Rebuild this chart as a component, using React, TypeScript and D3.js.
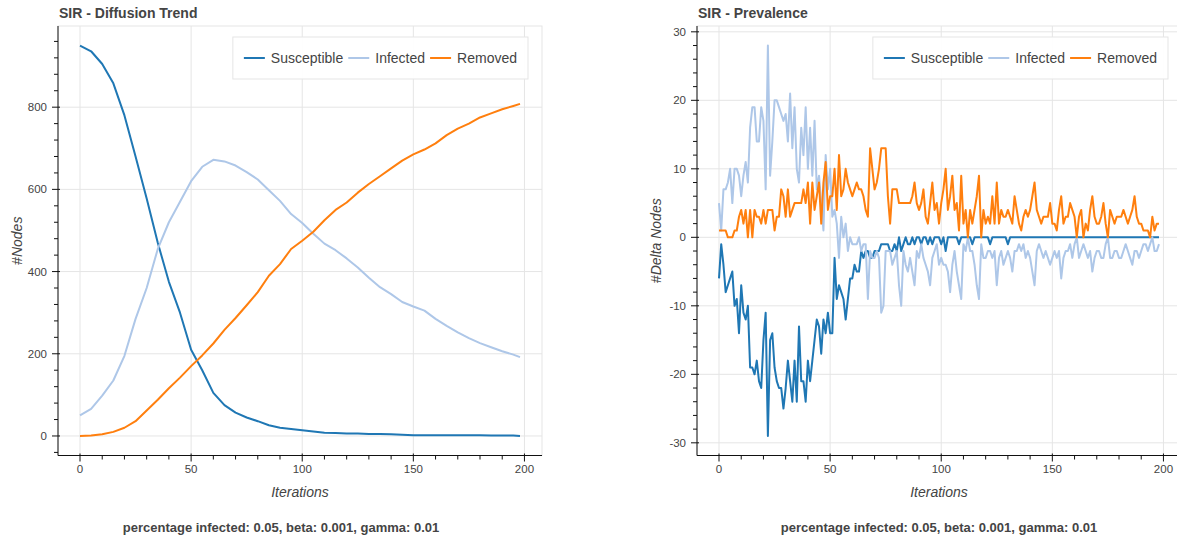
import React, { useEffect, useRef } from 'react';
import * as d3 from 'd3';

const W = 1177;
const H = 540;

// Diffusion trend (node counts), read every 5 iterations
const trendIters = [0, 5, 10, 15, 20, 25, 30, 35, 40, 45, 50, 55, 60, 65, 70, 75, 80, 85, 90, 95, 100,
  105, 110, 115, 120, 125, 130, 135, 140, 145, 150, 155, 160, 165, 170, 175, 180, 185, 190, 195, 198];
const trendSusceptible = [950, 936, 905, 858, 780, 680, 578, 470, 375, 300, 210, 160, 105, 75, 57, 45, 36, 26, 20, 17, 14,
  11, 8, 7, 6, 6, 5, 5, 4, 3, 2, 2, 2, 2, 2, 2, 2, 1, 1, 1, 0];
const trendInfected = [50, 66, 98, 135, 195, 285, 360, 455, 520, 570, 620, 655, 672, 668, 658, 642, 624, 598, 572, 540, 518,
  492, 468, 452, 432, 410, 385, 362, 345, 326, 315, 305, 285, 268, 252, 238, 226, 216, 206, 198, 192];
const trendRemoved = [0, 1, 4, 10, 20, 36, 62, 88, 116, 142, 170, 196, 225, 258, 287, 318, 350, 390, 418, 455, 475,
  497, 525, 550, 568, 592, 613, 632, 651, 670, 685, 697, 712, 732, 748, 760, 775, 785, 795, 803, 808];

// Prevalence (delta nodes per iteration), iterations 0..198
const prevSusceptible = [
  -6, -1, -4, -8, -7, -6, -5, -10, -9, -14,
  -7, -11, -12, -10, -19, -19, -20, -18, -21, -22,
  -15, -11, -29, -15, -14, -19, -21, -22, -22, -25,
  -22, -18, -21, -24, -18, -24, -13, -21, -21, -24,
  -18, -21, -18, -15, -12, -13, -17, -12, -14, -11,
  -14, -14, -3, -9, -7, -8, -9, -12, -9, -6,
  -6, -4, -5, -5, -2, -3, -2, -2, -3, -3,
  -2, -2, -2, -1, -1, -1, -1, -2, -2, -1,
  -2, 0, -2, -1, 0, -1, -1, 0, -1, 0,
  0, -1, 0, 0, -1, 0, -1, 0, 0, 0,
  -1, 0, -2, 0, 0, 0, 0, 0, -1, 0,
  0, 0, 0, 0, -1, 0, 0, 0, 0, 0,
  0, 0, -1, 0, 0, 0, 0, 0, 0, 0,
  -1, 0, 0, 0, 0, 0, 0, 0, 0, 0,
  0, 0, 0, 0, 0, 0, 0, 0, 0, 0,
  0, 0, 0, 0, 0, 0, 0, 0, 0, 0,
  0, 0, 0, 0, 0, 0, 0, 0, 0, 0,
  0, 0, 0, 0, 0, 0, 0, 0, 0, 0,
  0, 0, 0, 0, 0, 0, 0, 0, 0, 0,
  0, 0, 0, 0, 0, 0, 0, 0, 0,
];
const prevInfected = [
  5, 1, 7, 7, 8, 10, 5, 10, 10, 9,
  6, 9, 11, 8, 16, 19, 19, 14, 14, 19,
  17, 7, 28, 9, 14, 20, 20, 19, 18, 17,
  18, 14, 21, 13, 19, 10, 8, 16, 12, 19,
  10, 16, 9, 17, 7, 9, 5, 1, 12, 7,
  10, 3, 4, 2, -3, 3, 0, 2, -2, 0,
  -1, -1, -1, 0, -2, -1, -1, -9, -2, -3,
  -3, -2, -3, -11, -10, -2, -2, -2, -4, -3,
  -2, -7, -10, -2, -4, -5, -3, -5, -7, -2,
  -3, -1, -3, -4, -5, -7, -3, -2, -1, -4,
  -3, -4, -4, -5, -8, -4, -2, -5, -7, -9,
  -1, -2, 0, -2, -2, -4, -7, -9, -1, -3,
  -3, -2, -2, -3, -2, -7, -3, -2, -4, -3,
  -2, -3, -5, -2, -2, -1, -2, -1, -3, -2,
  -3, -5, -7, -2, -1, -2, -3, -2, -3, -4,
  -3, -2, -3, -2, -6, -3, -2, -2, -1, -3,
  -1, 0, -3, -2, -1, -2, -3, -2, -5, -3,
  -2, -2, -3, -3, -1, 0, -3, -3, -2, -2,
  -3, -3, -2, -1, -2, -3, -4, -2, -2, -3,
  -2, -1, -1, -2, -1, 0, -2, -2, -1,
];
const prevRemoved = [
  1, 1, 1, 1, 0, 0, 0, 1, 1, 3,
  4, 2, 4, 0, 4, 0, 4, 3, 3, 2,
  4, 2, 4, 4, 4, 1, 3, 3, 7, 6,
  3, 7, 3, 4, 5, 5, 5, 5, 7, 5,
  8, 2, 8, 4, 6, 8, 2, 8, 11, 4,
  6, 6, 10, 4, 12, 6, 7, 10, 8, 7,
  6, 7, 8, 7, 7, 6, 4, 3, 13, 10,
  7, 8, 10, 13, 13, 13, 6, 2, 7, 7,
  7, 5, 5, 5, 5, 5, 5, 6, 8, 5,
  4, 5, 7, 3, 2, 5, 8, 4, 5, 2,
  5, 7, 10, 4, 6, 9, 4, 5, 1, 9,
  2, 4, 0, 4, 2, 4, 6, 9, 0, 4,
  2, 3, 2, 6, 2, 8, 2, 4, 3, 3,
  4, 3, 2, 6, 4, 2, 1, 3, 4, 3,
  4, 6, 8, 4, 3, 2, 3, 3, 3, 5,
  2, 2, 1, 4, 6, 2, 3, 3, 5, 4,
  3, 0, 3, 4, 0, 2, 1, 4, 6, 3,
  2, 2, 3, 5, 2, 0, 4, 3, 2, 3,
  3, 3, 4, 3, 2, 3, 4, 6, 3, 2,
  2, 1, 1, 1, 0, 3, 1, 2, 2,
];
const prevIters = d3.range(prevSusceptible.length);

const seriesNames = ['Susceptible', 'Infected', 'Removed'];
const seriesColors = ['#1f77b4', '#aec7e8', '#ff7f0e'];
const subtitle = 'percentage infected: 0.05, beta: 0.001, gamma: 0.01';

const FONT = '"Liberation Sans", Arial, Helvetica, sans-serif';
const TEXT = '#444444';
const GRID = '#e5e5e5';

// integer multiples of step inside [lo, hi]
const ticksIn = (lo, hi, step) => {
  const out = [];
  for (let k = Math.ceil(lo / step); k * step <= hi; k++) out.push(k * step);
  return out;
};

function drawPanel(svg, p) {
  const g = svg.append('g');
  const right = p.left + p.width;
  const bottom = p.top + p.height;

  const [x0, x1] = d3.extent(p.iters);
  const xPad = (x1 - x0) * 0.05;
  const x = d3.scaleLinear().domain([x0 - xPad, x1 + xPad]).range([p.left, right]);

  const [y0, y1] = d3.extent(p.values.flat());
  const yPad = (y1 - y0) * 0.05;
  const y = d3.scaleLinear().domain([y0 - yPad, y1 + yPad]).range([bottom, p.top]);

  const [xd0, xd1] = x.domain();
  const [yd0, yd1] = y.domain();
  const xMajor = ticksIn(xd0, xd1, 50);
  const xMinor = ticksIn(xd0, xd1, 10).filter(v => v % 50 !== 0);
  const yMajor = ticksIn(yd0, yd1, p.yStep);
  const yMinor = ticksIn(yd0, yd1, p.yStep / 5).filter(v => Math.round(v / (p.yStep / 5)) % 5 !== 0);

  // grid
  g.selectAll('.vgrid').data(xMajor).enter().append('line')
    .attr('x1', d => x(d)).attr('x2', d => x(d)).attr('y1', p.top).attr('y2', bottom)
    .attr('stroke', GRID).attr('stroke-width', 1);
  g.selectAll('.hgrid').data(yMajor).enter().append('line')
    .attr('x1', p.left).attr('x2', right).attr('y1', d => y(d)).attr('y2', d => y(d))
    .attr('stroke', GRID).attr('stroke-width', 1);

  g.append('rect')
    .attr('x', p.left).attr('y', p.top).attr('width', p.width).attr('height', p.height)
    .attr('fill', 'none').attr('stroke', GRID);

  // lines
  const line = d3.line().x((d, i) => x(p.iters[i])).y(d => y(d));
  p.values.forEach((vals, k) => {
    g.append('path')
      .attr('d', line(vals))
      .attr('fill', 'none')
      .attr('stroke', seriesColors[k])
      .attr('stroke-width', 2)
      .attr('stroke-linejoin', 'round');
  });

  // axes
  const ax = g.append('g').attr('stroke', '#111').attr('stroke-width', 1);
  ax.append('line').attr('x1', p.left).attr('x2', right).attr('y1', bottom).attr('y2', bottom);
  ax.append('line').attr('x1', p.left).attr('x2', p.left).attr('y1', p.top).attr('y2', bottom);
  xMajor.forEach(v => ax.append('line').attr('x1', x(v)).attr('x2', x(v)).attr('y1', bottom - 2).attr('y2', bottom + 6));
  xMinor.forEach(v => ax.append('line').attr('x1', x(v)).attr('x2', x(v)).attr('y1', bottom).attr('y2', bottom + 4));
  yMajor.forEach(v => ax.append('line').attr('x1', p.left - 6).attr('x2', p.left + 2).attr('y1', y(v)).attr('y2', y(v)));
  yMinor.forEach(v => ax.append('line').attr('x1', p.left - 4).attr('x2', p.left).attr('y1', y(v)).attr('y2', y(v)));

  g.selectAll('.xlab').data(xMajor).enter().append('text')
    .attr('x', d => x(d)).attr('y', bottom + 17)
    .attr('text-anchor', 'middle')
    .style('font', `11.5px ${FONT}`).style('fill', TEXT)
    .text(d => d);
  g.selectAll('.ylab').data(yMajor).enter().append('text')
    .attr('x', p.left - 11).attr('y', d => y(d) + 4)
    .attr('text-anchor', 'end')
    .style('font', `11.5px ${FONT}`).style('fill', TEXT)
    .text(d => d);

  g.append('text')
    .attr('x', (p.left + right) / 2).attr('y', 497)
    .attr('text-anchor', 'middle')
    .style('font', `italic 14px ${FONT}`).style('fill', TEXT)
    .text('Iterations');
  g.append('text')
    .attr('transform', `translate(${p.left - 36},${(p.top + bottom) / 2}) rotate(-90)`)
    .attr('text-anchor', 'middle')
    .style('font', `italic 14px ${FONT}`).style('fill', TEXT)
    .text(p.yLabel);

  g.append('text')
    .attr('x', p.left + 1).attr('y', 18)
    .style('font', `bold 14px ${FONT}`).style('fill', TEXT)
    .text(p.title);

  g.append('text')
    .attr('x', p.subtitleX).attr('y', 532)
    .attr('text-anchor', 'middle')
    .style('font', `bold 13px ${FONT}`).style('fill', TEXT)
    .text(subtitle);

  // legend
  const lg = g.append('g');
  const box = lg.append('rect');
  const pad = 11, glyphW = 21, standoff = 6, spacing = 5;
  const ly = 58;
  let cx = 0;
  const items = seriesNames.map((name, k) => {
    const gl = lg.append('line').attr('stroke', seriesColors[k]).attr('stroke-width', 2);
    const tx = lg.append('text').style('font', `14px ${FONT}`).style('fill', TEXT).text(name);
    const tw = tx.node().getComputedTextLength();
    const item = { gl, tx, start: cx, tw };
    cx += glyphW + standoff + tw + (k < seriesNames.length - 1 ? spacing : 0);
    return item;
  });
  const boxW = pad * 2 + cx;
  const boxX = right - p.legendInset - boxW;
  box.attr('x', boxX).attr('y', 37).attr('width', boxW).attr('height', 42)
    .attr('fill', '#fff').attr('fill-opacity', 0.95).attr('stroke', GRID);
  items.forEach(it => {
    const sx = boxX + pad + it.start;
    it.gl.attr('x1', sx).attr('x2', sx + glyphW).attr('y1', ly).attr('y2', ly);
    it.tx.attr('x', sx + glyphW + standoff).attr('y', ly + 5);
  });
}

export default function App() {
  const svgRef = useRef(null);

  useEffect(() => {
    const svg = d3.select(svgRef.current);
    svg.selectAll('*').remove();

    drawPanel(svg, {
      left: 58, top: 26, width: 484, height: 429.5,
      iters: trendIters,
      values: [trendSusceptible, trendInfected, trendRemoved],
      yStep: 200,
      title: 'SIR - Diffusion Trend',
      yLabel: '#Nodes',
      subtitleX: 281,
      legendInset: 14,
    });

    drawPanel(svg, {
      left: 697, top: 26, width: 484, height: 429.5,
      iters: prevIters,
      values: [prevSusceptible, prevInfected, prevRemoved],
      yStep: 10,
      title: 'SIR - Prevalence',
      yLabel: '#Delta Nodes',
      subtitleX: 939,
      legendInset: 13,
    });
  }, []);

  return (
    <svg
      ref={svgRef}
      width={W}
      height={H}
      style={{ position: 'absolute', left: 0, top: 0, background: '#fff' }}
    />
  );
}
